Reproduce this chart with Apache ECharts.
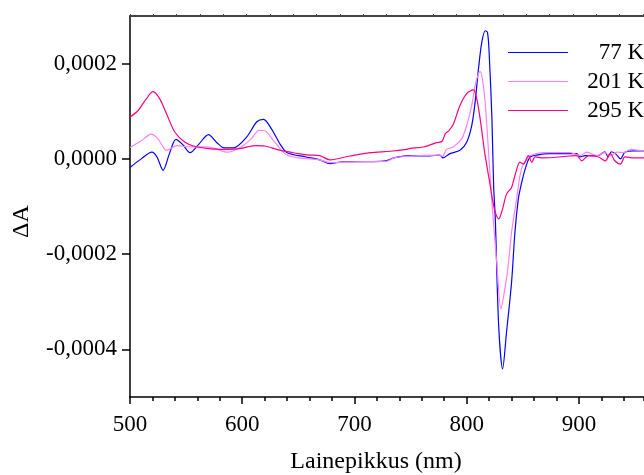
<!DOCTYPE html>
<html>
<head>
<meta charset="utf-8">
<script src="https://cdn.jsdelivr.net/npm/echarts@6/dist/echarts.min.js"></script>
<style>
  html, body { margin: 0; padding: 0; background: #fff; }
  #main { width: 644px; height: 475px; }
</style>
</head>
<body>
<div id="main"></div>
<script>
// wavelength (nm) and delta A for each temperature
var wave77 = [500, 510, 519.5, 524, 529.5, 535, 541, 547, 553.5, 561, 570, 577, 584, 592, 604, 613, 619, 626, 634, 640,
  657, 669, 678, 690, 702, 728, 735, 750, 767, 776, 779, 785, 794, 800, 804.5, 807.5, 810.5, 813.5, 816.5, 818.5,
  820, 822.5, 824, 825.5, 828.5, 832, 835.5, 840, 843, 846, 848, 850.5, 853.5, 856.5, 862.5, 874, 898, 901,
  905.5, 917, 923, 926, 929, 933, 937, 941, 949, 958, 970];
var dA77 = [-0.000018, 0.000000, 0.000014, 0.000004, -0.000024, 0.000010, 0.000041, 0.000030, 0.000013, 0.000030,
  0.000051, 0.000035, 0.000023, 0.000023, 0.000046, 0.000078, 0.000083, 0.000063, 0.000030, 0.000013,
  0.000004, -0.000002, -0.000010, -0.000006, -0.000006, -0.000004, 0.000002, 0.000007, 0.000006, 0.000008,
  0.000002, 0.000011, 0.000018, 0.000035, 0.000070, 0.000119, 0.000189, 0.000245, 0.000269, 0.000266,
  0.000224, 0.000084, -0.000056, -0.000126, -0.000350, -0.000441, -0.000364, -0.000259, -0.000154, -0.000084,
  -0.000060, -0.000035, -0.000011, 0.000004, 0.000008, 0.000011, 0.000011, 0.000004,
  0.000007, 0.000007, 0.000015, 0.000004, 0.000015, 0.000010, 0.000000, 0.000014, 0.000017, 0.000017, 0.000017];

var wave201 = [500, 510, 519, 525, 532.5, 542, 552, 567, 575.5, 587, 599, 608, 615, 620, 629, 639, 650, 669, 678, 702,
  729, 735, 750, 776, 778.5, 782, 788, 795.5, 800, 804.5, 807.5, 810.5, 812, 814, 816.5, 819.5, 822.5, 827,
  830.5, 834, 837, 840, 844.5, 847.5, 850.5, 855, 856.5, 868, 892, 901, 907, 916, 923, 928, 934, 940, 946, 958, 970];
var dA201 = [0.000024, 0.000038, 0.000052, 0.000042, 0.000018, 0.000028, 0.000025, 0.000025, 0.000022, 0.000014,
  0.000025, 0.000042, 0.000060, 0.000059, 0.000035, 0.000009, 0.000002, -0.000002, -0.000008, -0.000006,
  -0.000005, 0.000002, 0.000006, 0.000008, 0.000005, 0.000020, 0.000025, 0.000042, 0.000070, 0.000112,
  0.000154, 0.000179, 0.000183, 0.000168, 0.000119, 0.000014, -0.000091, -0.000224,
  -0.000315, -0.000273, -0.000224, -0.000154, -0.000084, -0.000035, -0.000011, 0.000002, 0.000007, 0.000013,
  0.000013, 0.000007, 0.000014, 0.000007, 0.000013, 0.000007, 0.000014, 0.000013, 0.000020, 0.000017, 0.000017];

var wave295 = [500, 507, 514.5, 520.5, 526.5, 532.5, 540, 549, 558, 572.5, 587, 599, 611, 620, 632, 643, 650, 660, 669,
  678, 696, 714, 732, 746.5, 749.5, 761.5, 773, 778, 781, 784, 788, 794, 800, 806, 809, 812, 816, 820.5, 824,
  826, 828.5, 832, 835.5, 840, 843, 847.5, 850.5, 855, 858, 861, 868, 892, 898, 902.5, 908.5, 917.5, 923.5,
  928, 932, 937, 941, 949, 958, 970];
var dA295 = [0.000088, 0.000101, 0.000126, 0.000141, 0.000126, 0.000095, 0.000056, 0.000035, 0.000026, 0.000021,
  0.000020, 0.000022, 0.000028, 0.000027, 0.000019, 0.000014, 0.000011, 0.000008, 0.000007,
  -0.000002, 0.000006, 0.000013, 0.000016, 0.000020, 0.000022, 0.000025, 0.000034, 0.000037, 0.000053,
  0.000059, 0.000072, 0.000112, 0.000137, 0.000145, 0.000126, 0.000084, 0.000014, -0.000049, -0.000098,
  -0.000116, -0.000126, -0.000105, -0.000074, -0.000060, -0.000035, -0.000007, -0.000011, 0.000007, -0.000007,
  0.000004, 0.000002, 0.000006, 0.000007, -0.000004, 0.000007, 0.000004, -0.000004,
  0.000011, -0.000004, -0.000011, 0.000004, 0.000002, 0.000002, 0.000002];

var seriesNames = ['77 K', '201 K', '295 K'];
var seriesColors = ['#0000ff', '#ff80ff', '#ff0080'];
var xTicks = [500, 600, 700, 800, 900];
var yTicks = [-0.0004, -0.0002, 0, 0.0002];

var pairs = function (xs, ys) {
  var out = [];
  for (var i = 0; i < xs.length; i++) out.push([xs[i], ys[i]]);
  return out;
};

var font = 'Liberation Serif';
var chart = echarts.init(document.getElementById('main'));
chart.setOption({
  animation: false,
  backgroundColor: '#fff',
  // the plot runs past the right edge of the picture, so the x range stops at ~958 nm
  grid: { left: 130, right: 0, top: 16, bottom: 78, outerBoundsMode: 'none' },
  legend: {
    orient: 'vertical',
    left: 508,
    top: 41,
    padding: 0,
    icon: 'rect',
    itemWidth: 60,
    itemHeight: 1.2,
    itemGap: 6,
    data: seriesNames,
    formatter: function (name) { return '{r|' + name + '}'; },
    textStyle: {
      fontFamily: font, fontSize: 23, color: '#000',
      rich: { r: { width: 71, align: 'right', fontFamily: font, fontSize: 23, lineHeight: 23 } }
    }
  },
  xAxis: [
    {
      type: 'value',
      min: 500,
      max: 958,
      name: 'Lainepikkus (nm)',
      nameLocation: 'middle',
      nameGap: 53,
      nameTextStyle: { fontFamily: font, fontSize: 24, color: '#000', padding: [0, 22, 0, 0] },
      axisLine: { onZero: false, lineStyle: { color: '#000', width: 1.5 } },
      axisTick: { customValues: xTicks, length: 7, lineStyle: { color: '#000', width: 1.5 } },
      axisLabel: { customValues: xTicks, margin: 16, fontFamily: font, fontSize: 23, color: '#000' },
      splitLine: { show: false }
    },
    {
      // minor ticks every 20 nm
      type: 'value',
      position: 'bottom',
      min: 500,
      max: 958,
      interval: 20,
      axisLine: { show: false, onZero: false },
      axisTick: { length: 4, lineStyle: { color: '#000', width: 1.5 } },
      axisLabel: { show: false },
      splitLine: { show: false }
    },
    {
      type: 'value',
      position: 'top',
      min: 0,
      max: 441,
      interval: 20,
      axisLine: { onZero: false, lineStyle: { color: '#444', width: 2 } },
      axisTick: { length: 2, lineStyle: { color: '#444', width: 1 } },
      axisLabel: { show: false },
      splitLine: { show: false }
    }
  ],
  yAxis: [
    {
      type: 'value',
      min: -0.0005,
      max: 0.0003,
      name: 'ΔA',
      nameLocation: 'middle',
      nameGap: 96,
      nameTextStyle: { fontFamily: font, fontSize: 24, color: '#000', padding: [0, 30, 0, 0] },
      axisLine: { onZero: false, lineStyle: { color: '#000', width: 1.5 } },
      axisTick: { customValues: yTicks, length: 8, lineStyle: { color: '#000', width: 1.5 } },
      axisLabel: {
        customValues: yTicks,
        margin: 13,
        fontFamily: font, fontSize: 23, color: '#000',
        formatter: function (v) { return v.toFixed(4).replace('.', ','); }
      },
      splitLine: { show: false }
    },
    {
      type: 'value',
      min: -0.0005,
      max: 0.0003,
      interval: 0.00005,
      axisLine: { show: false, onZero: false },
      axisTick: { length: 4, lineStyle: { color: '#000', width: 1.5 } },
      axisLabel: { show: false },
      splitLine: { show: false }
    }
  ],
  series: [
    { name: seriesNames[0], type: 'line', symbol: 'none', smooth: 0.3, data: pairs(wave77, dA77),
      lineStyle: { color: seriesColors[0], width: 1.2 }, itemStyle: { color: seriesColors[0] } },
    { name: seriesNames[1], type: 'line', symbol: 'none', smooth: 0.3, data: pairs(wave201, dA201),
      lineStyle: { color: seriesColors[1], width: 1.2 }, itemStyle: { color: seriesColors[1] } },
    { name: seriesNames[2], type: 'line', symbol: 'none', smooth: 0.3, data: pairs(wave295, dA295),
      lineStyle: { color: seriesColors[2], width: 1.2 }, itemStyle: { color: seriesColors[2] } }
  ]
});
</script>
</body>
</html>
